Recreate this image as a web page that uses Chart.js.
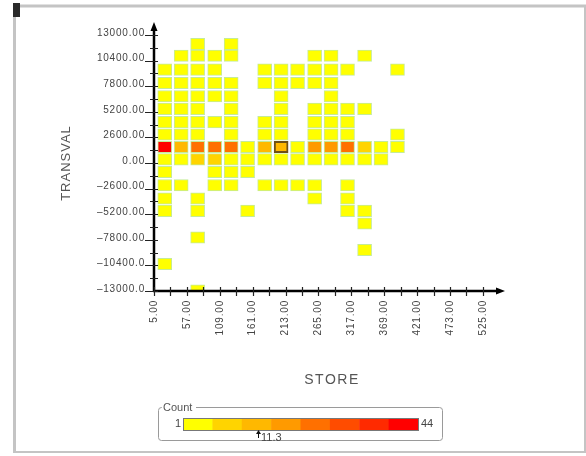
<!DOCTYPE html>
<html>
<head>
<meta charset="utf-8">
<script src="https://cdn.jsdelivr.net/npm/chart.js@4.4.0/dist/chart.umd.min.js"></script>
<style>
body{margin:0;background:#fff}
#wrap{position:relative;width:586px;height:456px}
</style>
</head>
<body>
<div id="wrap"><canvas id="heat"></canvas></div>
<script>

// STORE bin centres (columns) and TRANSVAL bin centres (rows, bottom to top)
const storeCenters = [22, 48, 74, 101, 127, 153, 180, 206, 232, 259, 285, 311, 338, 364, 390];
const transvalRows = [-12950, -11620, -10250, -8840, -7560, -6140, -4860, -3610, -2260, -910,
                      370, 1620, 2900, 4150, 5500, 6780, 8130, 9480, 10900, 12080];

// counts per cell, top row first (row 19 ... row 0), 0 = empty
const counts = [
  [0,0,2,0,1,0,0,0,0,0,0,0,0,0,0],
  [0,2,3,1,2,0,0,0,0,1,2,0,1,0,0],
  [3,2,4,2,0,0,1,3,1,2,3,1,0,0,1],
  [4,3,3,2,2,0,2,3,1,2,1,0,0,0,0],
  [3,4,3,2,3,0,0,2,0,0,1,0,0,0,0],
  [4,3,2,0,2,0,0,3,0,2,3,1,2,0,0],
  [4,3,3,2,3,0,2,3,0,2,2,1,0,0,0],
  [5,4,4,0,3,0,2,3,0,3,2,2,0,0,1],
  [44,13,25,26,24,4,12,14,5,18,18,23,10,5,3],
  [6,5,9,9,5,4,5,5,4,5,4,5,3,2,0],
  [3,0,0,2,2,1,0,0,0,0,0,0,0,0,0],
  [3,1,0,2,2,0,1,2,1,1,0,1,0,0,0],
  [2,0,1,0,0,0,0,0,0,1,0,1,0,0,0],
  [2,0,1,0,0,1,0,0,0,0,0,1,1,0,0],
  [0,0,0,0,0,0,0,0,0,0,0,0,1,0,0],
  [0,0,1,0,0,0,0,0,0,0,0,0,0,0,0],
  [0,0,0,0,0,0,0,0,0,0,0,0,1,0,0],
  [1,0,0,0,0,0,0,0,0,0,0,0,0,0,0],
  [0,0,0,0,0,0,0,0,0,0,0,0,0,0,0],
  [0,0,1,0,0,0,0,0,0,0,0,0,0,0,0]
];

// selected cell (row index in counts, column)
const selected = [8, 7];

const yTicks = [13000, 10400, 7800, 5200, 2600, 0, -2600, -5200, -7800, -10400, -13000];
const xTicks = [5, 57, 109, 161, 213, 265, 317, 369, 421, 473, 525];

const countMin = 1, countMax = 44, countMark = 11.3;
const legendColors = ['#ffff00', '#ffd400', '#ffb800', '#ff9a00', '#ff7000', '#ff4c00', '#ff2a00', '#ff0000'];

function colorFor(n){
  let k = Math.floor((n - countMin) / (countMax - countMin) * legendColors.length);
  if (k > legendColors.length - 1) k = legendColors.length - 1;
  return legendColors[k];
}

const halfRow = 580;
let cells = [];
for (let r = 0; r < counts.length; r++) {
  const yc = transvalRows[transvalRows.length - 1 - r];
  for (let c = 0; c < storeCenters.length; c++) {
    const n = counts[r][c];
    if (!n) continue;
    cells.push({x: storeCenters[c], y: [yc - halfRow, yc + halfRow], n: n,
                sel: r == selected[0] && c == selected[1]});
  }
}

function fmt(v){
  let s = v.toFixed(2).slice(0, 8);
  return s.replace('-', '\u2013');
}

const decor = {
  id: 'decor',
  afterDraw(chart){
    const ctx = chart.ctx;
    const xs = chart.scales.x, ys = chart.scales.y;
    const x0 = xs.getPixelForValue(5), y0 = ys.getPixelForValue(-13000);
    const xEnd = chart.chartArea.right, yEnd = chart.chartArea.top;
    ctx.save();

    // frame
    ctx.strokeStyle = '#c4c4c4';
    ctx.lineWidth = 3;
    ctx.beginPath();
    ctx.moveTo(14.5, 453); ctx.lineTo(14.5, 6); ctx.lineTo(586, 6);
    ctx.stroke();
    ctx.lineWidth = 2;
    ctx.beginPath();
    ctx.moveTo(14, 452); ctx.lineTo(586, 452);
    ctx.moveTo(585, 6); ctx.lineTo(585, 452);
    ctx.stroke();
    ctx.fillStyle = '#2a2a2a';
    ctx.fillRect(13, 3, 7, 14);

    // axes
    ctx.strokeStyle = '#000';
    ctx.fillStyle = '#000';
    ctx.lineWidth = 2.5;
    ctx.beginPath();
    ctx.moveTo(x0, y0 + 1); ctx.lineTo(x0, yEnd + 6);
    ctx.moveTo(x0 - 1, y0); ctx.lineTo(xEnd - 6, y0);
    ctx.stroke();
    ctx.beginPath();
    ctx.moveTo(x0, yEnd); ctx.lineTo(x0 - 3.5, yEnd + 9); ctx.lineTo(x0 + 3.5, yEnd + 9); ctx.closePath();
    ctx.moveTo(xEnd, y0); ctx.lineTo(xEnd - 9, y0 - 3.5); ctx.lineTo(xEnd - 9, y0 + 3.5); ctx.closePath();
    ctx.fill();

    // ticks
    ctx.lineWidth = 1.2;
    ctx.strokeStyle = '#222';
    ctx.beginPath();
    for (let v = -13000; v <= 13000; v += 1300) {
      const py = Math.round(ys.getPixelForValue(v)) + 0.5;
      const major = yTicks.includes(v);
      ctx.moveTo(major ? x0 - 9 : x0 - 4, py); ctx.lineTo(x0 + 4, py);
    }
    for (let v = 5; v <= 525; v += 26) {
      const px = Math.round(xs.getPixelForValue(v)) + 0.5;
      ctx.moveTo(px, y0 - 4); ctx.lineTo(px, y0 + 5);
    }
    ctx.stroke();

    // tick labels
    ctx.fillStyle = '#444';
    ctx.font = '10px "Liberation Sans", Arial, sans-serif';
    ctx.letterSpacing = '0.8px';
    ctx.textAlign = 'right';
    ctx.textBaseline = 'middle';
    yTicks.forEach(v => {
      ctx.fillText(fmt(v), x0 - 9, ys.getPixelForValue(v) - 2);
    });
    xTicks.forEach(v => {
      const px = xs.getPixelForValue(v);
      ctx.save();
      ctx.translate(px, y0 + 9);
      ctx.rotate(-Math.PI / 2);
      ctx.fillText(fmt(v), 0, 0);
      ctx.restore();
    });

    // axis titles
    ctx.fillStyle = '#555';
    ctx.font = '13px "Liberation Sans", Arial, sans-serif';
    ctx.letterSpacing = '1px';
    ctx.textAlign = 'center';
    ctx.save();
    ctx.translate(66, 163);
    ctx.rotate(-Math.PI / 2);
    ctx.fillText('TRANSVAL', 0, 0);
    ctx.restore();
    ctx.font = '14px "Liberation Sans", Arial, sans-serif';
    ctx.letterSpacing = '1.5px';
    ctx.fillText('STORE', 332, 380);

    // colour legend
    ctx.letterSpacing = '0px';
    ctx.strokeStyle = '#9a9a9a';
    ctx.lineWidth = 1;
    ctx.beginPath();
    ctx.roundRect(158.5, 407.5, 284, 33, 3);
    ctx.stroke();
    ctx.font = '11px "Liberation Sans", Arial, sans-serif';
    ctx.fillStyle = '#fff';
    ctx.fillRect(162, 403, 34, 9);
    ctx.fillStyle = '#555';
    ctx.textAlign = 'left';
    ctx.fillText('Count', 163, 408);

    const bl = 183, br = 418, bt = 418, bh = 12;
    const sw = (br - bl) / legendColors.length;
    legendColors.forEach((c, i) => {
      ctx.fillStyle = c;
      ctx.fillRect(bl + i * sw, bt, sw + 0.5, bh);
    });
    ctx.strokeStyle = '#777';
    ctx.strokeRect(bl + 0.5, bt + 0.5, br - bl, bh);
    ctx.fillStyle = '#444';
    ctx.textAlign = 'right';
    ctx.fillText(String(countMin), bl - 2, bt + 6);
    ctx.textAlign = 'left';
    ctx.fillText(String(countMax), br + 3, bt + 6);
    const mx = 258;
    ctx.strokeStyle = '#111';
    ctx.beginPath();
    ctx.moveTo(mx + 0.5, bt + bh + 1); ctx.lineTo(mx + 0.5, bt + bh + 8);
    ctx.stroke();
    ctx.fillStyle = '#111';
    ctx.beginPath();
    ctx.moveTo(mx + 0.5, bt + bh); ctx.lineTo(mx - 2, bt + bh + 4); ctx.lineTo(mx + 3, bt + bh + 4); ctx.closePath();
    ctx.fill();
    ctx.fillStyle = '#444';
    ctx.fillText(String(countMark), mx + 3, bt + bh + 8);

    ctx.restore();
  }
};

new Chart(document.getElementById('heat'), {
  type: 'bar',
  data: {
    datasets: [{
      data: cells,
      backgroundColor: ctx => ctx.raw ? colorFor(ctx.raw.n) : '#ffff00',
      borderColor: ctx => ctx.raw && ctx.raw.sel ? '#6e5016' : '#c4eb98',
      borderWidth: ctx => ctx.raw && ctx.raw.sel ? 2 : 1,
      borderSkipped: false,
      barThickness: 14
    }]
  },
  options: {
    responsive: true,
    maintainAspectRatio: false,
    animation: false,
    events: [],
    layout: {padding: {left: 154, right: 81, top: 22, bottom: 165}},
    scales: {
      x: {type: 'linear', offset: false, min: 5, max: 560, display: false},
      y: {type: 'linear', min: -13000, max: 14320, display: false}
    },
    plugins: {legend: {display: false}, tooltip: {enabled: false}}
  },
  plugins: [decor]
});
</script>
</body>
</html>
